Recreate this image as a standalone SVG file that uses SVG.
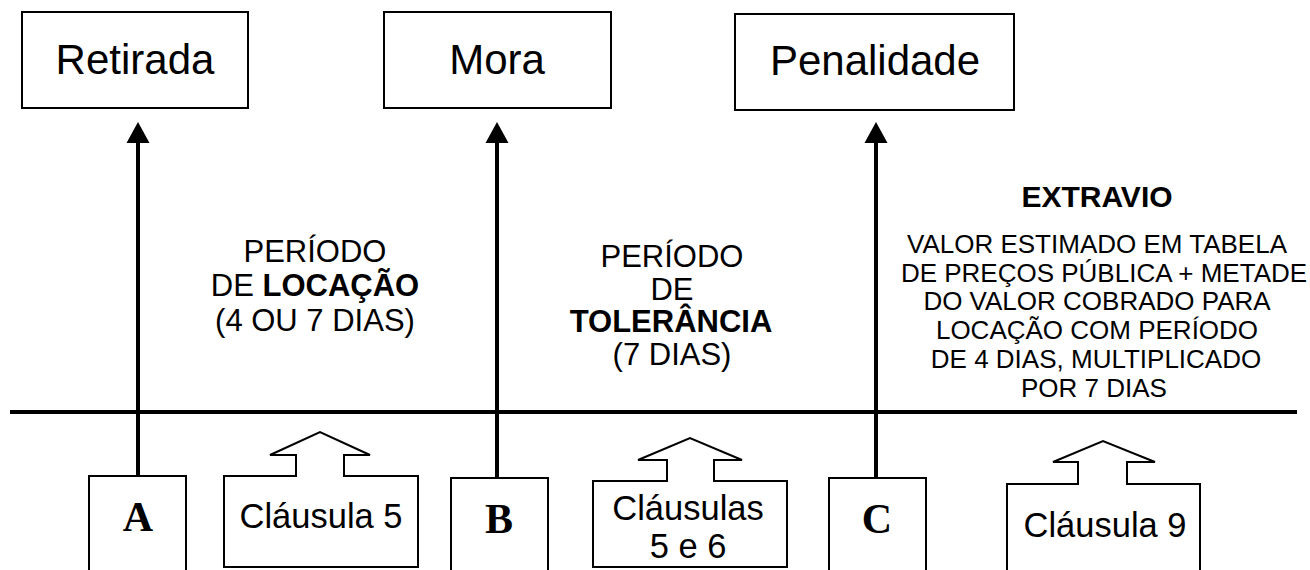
<svg xmlns="http://www.w3.org/2000/svg" width="1310" height="570" viewBox="0 0 1310 570">
<style>
.box{fill:#fff;stroke:#000;stroke-width:2}
.ttl{font-family:"Liberation Sans",Arial,sans-serif;font-size:42px;fill:#000;text-anchor:middle}
.let{font-family:"Liberation Serif","Times New Roman",serif;font-weight:bold;font-size:42px;fill:#000;text-anchor:middle}
.cl{font-family:"Liberation Sans",Arial,sans-serif;font-size:34.5px;fill:#000;text-anchor:middle}
.per{font-family:"Liberation Sans",Arial,sans-serif;font-size:31px;fill:#000;text-anchor:middle}
.ext{font-family:"Liberation Sans",Arial,sans-serif;font-size:26px;fill:#000;text-anchor:middle}
.b{font-weight:bold}
.conn{stroke:#000;stroke-width:4;fill:none}
.head{fill:#000;stroke:none}
</style>
<rect width="1310" height="570" fill="#fff"/>

<g id="retirada"><rect class="box" x="22" y="12" width="226" height="96"/><text class="ttl" x="135" y="74">Retirada</text></g>
<g id="mora"><rect class="box" x="384" y="12" width="227" height="96"/><text class="ttl" x="497" y="74">Mora</text></g>
<g id="penalidade"><rect class="box" x="735" y="14" width="279" height="96"/><text class="ttl" x="875" y="75">Penalidade</text></g>

<g id="connectors">
<line class="conn" x1="10" y1="412" x2="1297" y2="412"/>
<line class="conn" x1="138" y1="476" x2="138" y2="142"/>
<polygon class="head" points="138,122 149.5,143 126.5,143"/>
<line class="conn" x1="497" y1="478" x2="497" y2="142"/>
<polygon class="head" points="497,122 508.5,143 485.5,143"/>
<line class="conn" x1="876" y1="478" x2="876" y2="142"/>
<polygon class="head" points="876,122 887.5,143 864.5,143"/>
</g>

<g id="node-a"><path class="box" d="M89 572 V476 H186 V572"/><text class="let" x="138" y="531">A</text></g>
<g id="node-b"><path class="box" d="M451 572 V478 H548 V572"/><text class="let" x="499" y="533">B</text></g>
<g id="node-c"><path class="box" d="M829 572 V478 H926 V572"/><text class="let" x="877" y="533">C</text></g>

<g id="clausula5"><path class="box" d="M224 567 V476 H296 V455 H270 L320 432 L370 455 H344 V476 H418 V567 Z"/><text class="cl" x="321" y="528">Cláusula 5</text></g>
<g id="clausulas56"><path class="box" d="M593 567 V481 H667 V460 H638 L690 438 L742 460 H714 V481 H787 V567 Z"/><text class="cl" x="688" y="520">Cláusulas</text><text class="cl" x="688" y="558">5 e 6</text></g>
<g id="clausula9"><path class="box" d="M1007 572 V484 H1078 V462 H1053 L1103 441 L1155 462 H1127 V484 H1200 V572"/><text class="cl" x="1105" y="537">Cláusula 9</text></g>

<g id="periodo-locacao">
<text class="per" x="315" y="262">PERÍODO</text>
<text class="per" x="315" y="296">DE <tspan class="b">LOCAÇÃO</tspan></text>
<text class="per" x="315" y="331">(4 OU 7 DIAS)</text>
</g>
<g id="periodo-tolerancia">
<text class="per" x="672" y="267">PERÍODO</text>
<text class="per" x="672" y="300">DE</text>
<text class="per b" x="671" y="332">TOLERÂNCIA</text>
<text class="per" x="672" y="365">(7 DIAS)</text>
</g>
<g id="extravio">
<text class="per b" x="1097" y="207" style="font-size:30px">EXTRAVIO</text>
<text class="ext" x="1097" y="253">VALOR ESTIMADO EM TABELA</text>
<text class="ext" x="1104" y="282">DE PREÇOS PÚBLICA + METADE</text>
<text class="ext" x="1097" y="310">DO VALOR COBRADO PARA</text>
<text class="ext" x="1097" y="339">LOCAÇÃO COM PERÍODO</text>
<text class="ext" x="1096" y="368">DE 4 DIAS, MULTIPLICADO</text>
<text class="ext" x="1094" y="397">POR 7 DIAS</text>
</g>
</svg>
